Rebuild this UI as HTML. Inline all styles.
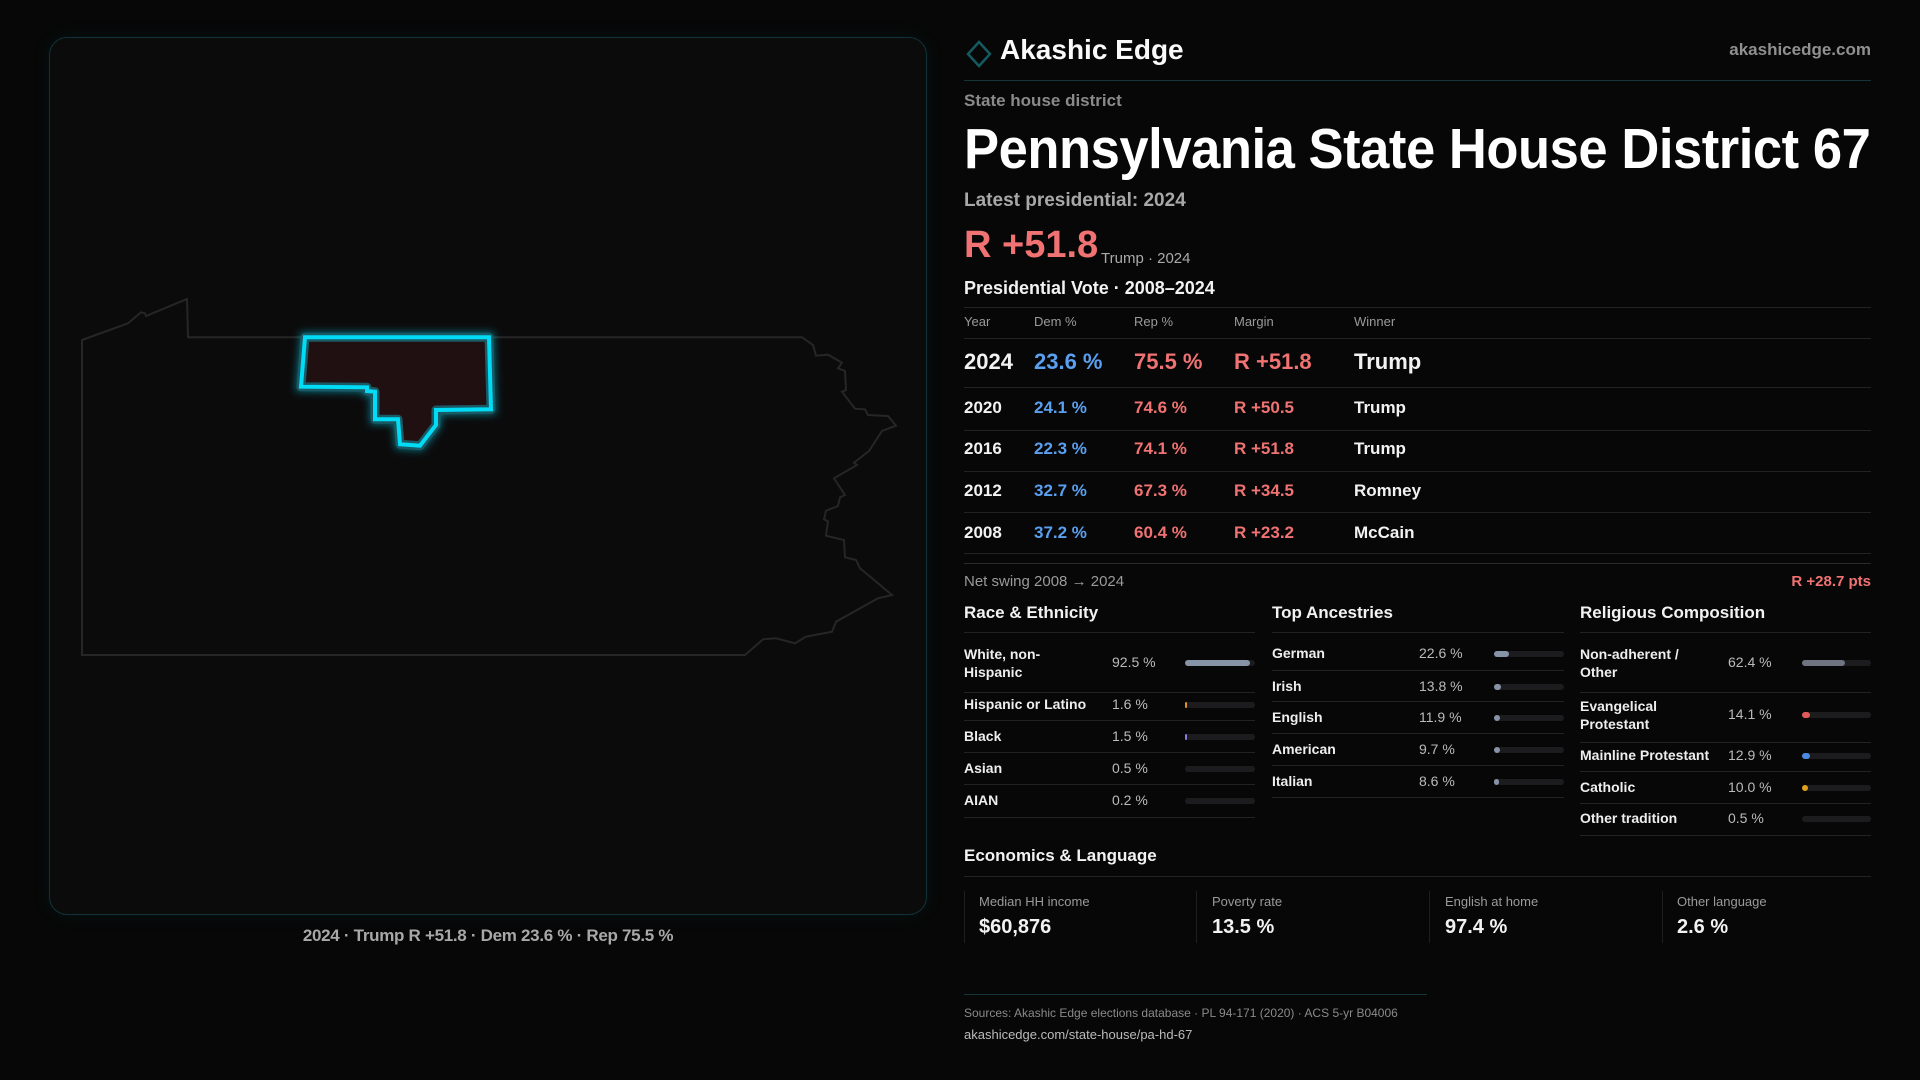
<!DOCTYPE html>
<html><head><meta charset="utf-8"><style>
*{margin:0;padding:0;box-sizing:border-box}
body{width:1920px;height:1080px;background:#070707;font-family:"Liberation Sans",sans-serif;color:#f2f2f2;position:relative;overflow:hidden}
.a{position:absolute;white-space:nowrap}
.hl{position:absolute;height:1px;background:#222}
.red{color:#f07272}.blue{color:#5aa0f0}
.g{color:#9a9a9a}
.bar{position:absolute;height:6px;border-radius:3px;background:#1c1c1e}
.bar i{display:block;height:6px;border-radius:3px}
.lbl{font-size:14px;font-weight:bold;color:#eee}
.val{font-size:14px;color:#bbb}
</style></head><body>
<div class="a" style="left:49px;top:37px;width:878px;height:878px;border:1px solid #123238;border-radius:18px;background:#0b0b0c;box-shadow:0 0 18px rgba(0,160,180,0.08)"></div>
<svg class="a" style="left:0;top:0" width="960" height="1000">
<defs><filter id="gl" x="-20%" y="-20%" width="140%" height="140%"><feGaussianBlur stdDeviation="4"/></filter></defs>
<polygon fill="none" stroke="#262626" stroke-width="2" points="82,340 128,323.3 141,312.3 145,313.3 146,316 187,299 188,337.3 802,337.3 813,345 816,355.7 828,354.7 842,362.7 838,368.3 845,371 846,390 842,391.7 855,408.7 865,409.3 868,415 888,416 896,425.7 882,431 869,451 854,462.7 857,465 834,478.3 845,495 840,497.3 838,506 826,510.7 824,519.3 828,521.3 826,535.7 844,540 845,557.3 856,560 860,568.3 892,595 878,598.3 836,621.7 832,631.7 806,636.7 795,643.3 776,638.3 763,639.3 745,655 82,655"/>
<g>
<polygon fill="none" stroke="#00d8f0" stroke-opacity="0.5" stroke-width="10" filter="url(#gl)" points="305,337.3 489,337.3 491,409.3 436,410 436,425 420,445.7 400,444.3 398,419.3 375,419.3 375,391.7 367,391 367,387.3 301,386.7"/>
<polygon fill="#201011" stroke="#1a5a66" stroke-width="9" stroke-linejoin="round" points="305,337.3 489,337.3 491,409.3 436,410 436,425 420,445.7 400,444.3 398,419.3 375,419.3 375,391.7 367,391 367,387.3 301,386.7"/>
<polygon fill="none" stroke="#00dcf5" stroke-width="4" points="305,337.3 489,337.3 491,409.3 436,410 436,425 420,445.7 400,444.3 398,419.3 375,419.3 375,391.7 367,391 367,387.3 301,386.7"/>
</g>
</svg>
<div class="a" style="left:49px;width:878px;top:926px;text-align:center;font-size:17px;font-weight:bold;color:#a8a8a8;letter-spacing:-0.3px">2024 · Trump R +51.8 · Dem 23.6 % · Rep 75.5 %</div>

<svg class="a" style="left:966px;top:40px" width="26" height="28"><polygon points="13,2 24,14 13,26 2,14" fill="none" stroke="#145a60" stroke-width="2.5"/></svg>
<div class="a" style="left:1000px;top:34px;font-size:28px;font-weight:bold;color:#fafafa">Akashic Edge</div>
<div class="a" style="right:49px;top:40px;font-size:17px;font-weight:bold;color:#909090">akashicedge.com</div>
<div class="hl" style="left:964px;width:907px;top:80px;background:#15353a"></div>
<div class="a g" style="left:964px;top:91px;font-size:17px;font-weight:bold;color:#8a8a8a">State house district</div>
<div class="a" style="left:964px;top:116px;font-size:57px;font-weight:bold;color:#fff;transform:scaleX(0.922);transform-origin:0 0;letter-spacing:-0.5px">Pennsylvania State House District 67</div>
<div class="a" style="left:964px;top:190px;font-size:19px;font-weight:bold;color:#a8a8a8">Latest presidential: 2024</div>
<div class="a red" style="left:964px;top:224px;font-size:38px;font-weight:bold">R +51.8</div>
<div class="a" style="left:1101px;top:250px;font-size:15px;color:#aaa">Trump · 2024</div>
<div class="a" style="left:964px;top:278px;font-size:18px;font-weight:bold">Presidential Vote · 2008–2024</div>
<div class="hl" style="left:964px;width:907px;top:307px"></div>
<div class="a g" style="left:964px;top:314px;font-size:13px">Year</div>
<div class="a g" style="left:1034px;top:314px;font-size:13px">Dem %</div>
<div class="a g" style="left:1134px;top:314px;font-size:13px">Rep %</div>
<div class="a g" style="left:1234px;top:314px;font-size:13px">Margin</div>
<div class="a g" style="left:1354px;top:314px;font-size:13px">Winner</div>
<div class="hl" style="left:964px;width:907px;top:338px"></div>
<div style="font-size:22px;font-weight:bold">
<div class="a" style="left:964px;top:349px">2024</div><div class="a blue" style="left:1034px;top:349px">23.6 %</div><div class="a red" style="left:1134px;top:349px">75.5 %</div><div class="a red" style="left:1234px;top:349px">R +51.8</div><div class="a" style="left:1354px;top:349px">Trump</div>
</div>
<div class="hl" style="left:964px;width:907px;top:387px"></div>
<div style="font-size:17px;font-weight:bold">
<div class="a" style="left:964px;top:398px">2020</div><div class="a blue" style="left:1034px;top:398px">24.1 %</div><div class="a red" style="left:1134px;top:398px">74.6 %</div><div class="a red" style="left:1234px;top:398px">R +50.5</div><div class="a" style="left:1354px;top:398px">Trump</div>
<div class="a" style="left:964px;top:439px">2016</div><div class="a blue" style="left:1034px;top:439px">22.3 %</div><div class="a red" style="left:1134px;top:439px">74.1 %</div><div class="a red" style="left:1234px;top:439px">R +51.8</div><div class="a" style="left:1354px;top:439px">Trump</div>
<div class="a" style="left:964px;top:481px">2012</div><div class="a blue" style="left:1034px;top:481px">32.7 %</div><div class="a red" style="left:1134px;top:481px">67.3 %</div><div class="a red" style="left:1234px;top:481px">R +34.5</div><div class="a" style="left:1354px;top:481px">Romney</div>
<div class="a" style="left:964px;top:523px">2008</div><div class="a blue" style="left:1034px;top:523px">37.2 %</div><div class="a red" style="left:1134px;top:523px">60.4 %</div><div class="a red" style="left:1234px;top:523px">R +23.2</div><div class="a" style="left:1354px;top:523px">McCain</div>
</div>
<div class="hl" style="left:964px;width:907px;top:430px"></div>
<div class="hl" style="left:964px;width:907px;top:471px"></div>
<div class="hl" style="left:964px;width:907px;top:512px"></div>
<div class="hl" style="left:964px;width:907px;top:553px"></div>
<div class="hl" style="left:964px;width:907px;top:563px;background:#2a2a2a"></div>
<div class="a" style="left:964px;top:573px;font-size:15px;color:#9a9a9a">Net swing 2008 → 2024</div>
<div class="a red" style="right:49px;top:573px;font-size:15px;font-weight:bold">R +28.7 pts</div>

<div class="a" style="left:964px;top:603px;font-size:17px;font-weight:bold">Race &amp; Ethnicity</div>
<div class="a" style="left:1272px;top:603px;font-size:17px;font-weight:bold">Top Ancestries</div>
<div class="a" style="left:1580px;top:603px;font-size:17px;font-weight:bold">Religious Composition</div>
<div class="hl" style="left:964px;width:291px;top:632px"></div>
<div class="hl" style="left:1272px;width:292px;top:632px"></div>
<div class="hl" style="left:1580px;width:291px;top:632px"></div>

<div class="a lbl" style="left:964px;top:645px;line-height:18px">White, non-<br>Hispanic</div>
<div class="a val" style="left:1112px;top:654px">92.5 %</div>
<div class="bar" style="left:1185px;top:660px;width:70px"><i style="width:92.5%;background:#8794a8"></i></div>
<div class="hl" style="left:964px;width:291px;top:692px"></div>
<div class="a lbl" style="left:964px;top:696px">Hispanic or Latino</div><div class="a val" style="left:1112px;top:696px">1.6 %</div>
<div class="bar" style="left:1185px;top:702px;width:70px"><i style="width:2px;background:#e0902a"></i></div>
<div class="hl" style="left:964px;width:291px;top:720px"></div>
<div class="a lbl" style="left:964px;top:728px">Black</div><div class="a val" style="left:1112px;top:728px">1.5 %</div>
<div class="bar" style="left:1185px;top:734px;width:70px"><i style="width:2px;background:#8a7ae0"></i></div>
<div class="hl" style="left:964px;width:291px;top:752px"></div>
<div class="a lbl" style="left:964px;top:760px">Asian</div><div class="a val" style="left:1112px;top:760px">0.5 %</div>
<div class="bar" style="left:1185px;top:766px;width:70px"></div>
<div class="hl" style="left:964px;width:291px;top:784px"></div>
<div class="a lbl" style="left:964px;top:792px">AIAN</div><div class="a val" style="left:1112px;top:792px">0.2 %</div>
<div class="bar" style="left:1185px;top:798px;width:70px"></div>
<div class="hl" style="left:964px;width:291px;top:817px"></div>

<div class="a lbl" style="left:1272px;top:645px">German</div><div class="a val" style="left:1419px;top:645px">22.6 %</div>
<div class="bar" style="left:1494px;top:651px;width:70px"><i style="width:21%;background:#8794a8"></i></div>
<div class="hl" style="left:1272px;width:292px;top:670px"></div>
<div class="a lbl" style="left:1272px;top:678px">Irish</div><div class="a val" style="left:1419px;top:678px">13.8 %</div>
<div class="bar" style="left:1494px;top:684px;width:70px"><i style="width:10%;background:#8794a8"></i></div>
<div class="hl" style="left:1272px;width:292px;top:701px"></div>
<div class="a lbl" style="left:1272px;top:709px">English</div><div class="a val" style="left:1419px;top:709px">11.9 %</div>
<div class="bar" style="left:1494px;top:715px;width:70px"><i style="width:9%;background:#8794a8"></i></div>
<div class="hl" style="left:1272px;width:292px;top:733px"></div>
<div class="a lbl" style="left:1272px;top:741px">American</div><div class="a val" style="left:1419px;top:741px">9.7 %</div>
<div class="bar" style="left:1494px;top:747px;width:70px"><i style="width:8%;background:#8794a8"></i></div>
<div class="hl" style="left:1272px;width:292px;top:765px"></div>
<div class="a lbl" style="left:1272px;top:773px">Italian</div><div class="a val" style="left:1419px;top:773px">8.6 %</div>
<div class="bar" style="left:1494px;top:779px;width:70px"><i style="width:7%;background:#8794a8"></i></div>
<div class="hl" style="left:1272px;width:292px;top:797px"></div>

<div class="a lbl" style="left:1580px;top:645px;line-height:18px">Non-adherent /<br>Other</div>
<div class="a val" style="left:1728px;top:654px">62.4 %</div>
<div class="bar" style="left:1802px;top:660px;width:69px"><i style="width:62.4%;background:#6f7480"></i></div>
<div class="hl" style="left:1580px;width:291px;top:692px"></div>
<div class="a lbl" style="left:1580px;top:697px;line-height:18px">Evangelical<br>Protestant</div>
<div class="a val" style="left:1728px;top:706px">14.1 %</div>
<div class="bar" style="left:1802px;top:712px;width:69px"><i style="width:12%;background:#e05a5a"></i></div>
<div class="hl" style="left:1580px;width:291px;top:742px"></div>
<div class="a lbl" style="left:1580px;top:747px">Mainline Protestant</div><div class="a val" style="left:1728px;top:747px">12.9 %</div>
<div class="bar" style="left:1802px;top:753px;width:69px"><i style="width:11%;background:#4a8ae0"></i></div>
<div class="hl" style="left:1580px;width:291px;top:771px"></div>
<div class="a lbl" style="left:1580px;top:779px">Catholic</div><div class="a val" style="left:1728px;top:779px">10.0 %</div>
<div class="bar" style="left:1802px;top:785px;width:69px"><i style="width:9%;background:#e0a020"></i></div>
<div class="hl" style="left:1580px;width:291px;top:803px"></div>
<div class="a lbl" style="left:1580px;top:810px">Other tradition</div><div class="a val" style="left:1728px;top:810px">0.5 %</div>
<div class="bar" style="left:1802px;top:816px;width:69px"></div>
<div class="hl" style="left:1580px;width:291px;top:835px"></div>

<div class="a" style="left:964px;top:846px;font-size:17px;font-weight:bold">Economics &amp; Language</div>
<div class="hl" style="left:964px;width:907px;top:876px"></div>
<div class="a" style="left:964px;top:891px;width:1px;height:52px;background:#1e1e1e"></div>
<div class="a" style="left:1196px;top:891px;width:1px;height:52px;background:#1e1e1e"></div>
<div class="a" style="left:1429px;top:891px;width:1px;height:52px;background:#1e1e1e"></div>
<div class="a" style="left:1662px;top:891px;width:1px;height:52px;background:#1e1e1e"></div>
<div class="a g" style="left:979px;top:894px;font-size:13px">Median HH income</div>
<div class="a" style="left:979px;top:916px;font-size:20px;font-weight:bold">$60,876</div>
<div class="a g" style="left:1212px;top:894px;font-size:13px">Poverty rate</div>
<div class="a" style="left:1212px;top:916px;font-size:20px;font-weight:bold">13.5 %</div>
<div class="a g" style="left:1445px;top:894px;font-size:13px">English at home</div>
<div class="a" style="left:1445px;top:916px;font-size:20px;font-weight:bold">97.4 %</div>
<div class="a g" style="left:1677px;top:894px;font-size:13px">Other language</div>
<div class="a" style="left:1677px;top:916px;font-size:20px;font-weight:bold">2.6 %</div>

<div class="hl" style="left:964px;width:463px;top:994px;background:#15353a"></div>
<div class="a" style="left:964px;top:1006px;font-size:12px;color:#8a8a8a">Sources: Akashic Edge elections database · PL 94-171 (2020) · ACS 5-yr B04006</div>
<div class="a" style="left:964px;top:1027px;font-size:13px;color:#bbb">akashicedge.com/state-house/pa-hd-67</div>
</body></html>
